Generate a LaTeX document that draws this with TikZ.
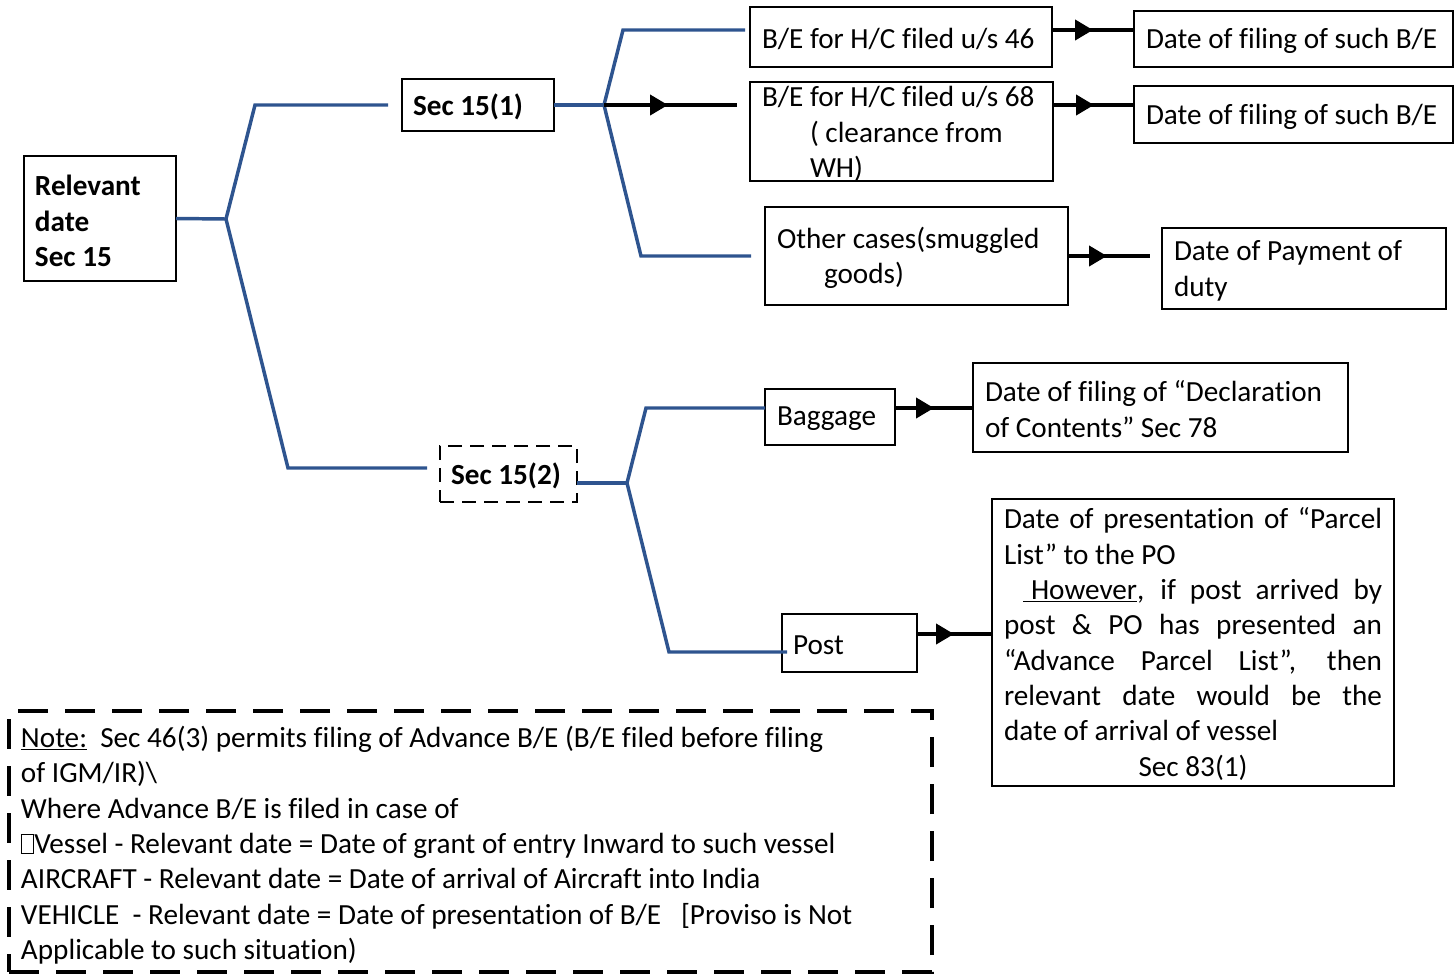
\documentclass[tikz,border=0pt]{standalone}
\usepackage{fontspec}
\setmainfont{Carlito}[Ligatures=CommonOff]
\usetikzlibrary{arrows.meta,decorations.markings}
\newdimen\upx \upx=0.75pt
\definecolor{lineblue}{RGB}{46,84,143}
\hbadness=10000 \hfuzz=8pt
\newcommand\missingglyph{{\fboxsep=0pt\fboxrule=0.6pt\fbox{\rule{0pt}{0.62em}\hspace{0.4em}}}}
\begin{document}
\begin{tikzpicture}[x=0.75pt,y=-0.75pt,
  box/.style={draw=black,line width=1.5pt,inner sep=0pt,outer sep=0pt,anchor=north west},
  dashbox/.style={box,line width=1.9pt,dash pattern=on 10.5pt off 6pt},
  notebox/.style={box,line width=3pt,dash pattern=on 22.5pt off 12.75pt},
  txt/.style={inner sep=0pt,outer sep=0pt,anchor=west,align=left,yshift=-1.5pt,font=\fontsize{21.9}{26.5}\selectfont},
  bold/.style={font=\fontsize{21.9}{26.5}\selectfont\bfseries},
  bl/.style={draw=lineblue,line width=2.6pt},
  ar/.style={draw=black,line width=3pt,postaction={decorate,decoration={markings,mark=at position #1 with {\arrow{Triangle[length=13.5pt,width=15pt]}}}}},
]
\useasboundingbox (0,0) rectangle (1454,975);

% boxes
\node[box,minimum width=152\upx,minimum height=125\upx] (rel) at (24,156) {};
\node[box,minimum width=152\upx,minimum height=52\upx] (s151) at (402,79) {};
\node[dashbox,minimum width=137\upx,minimum height=56\upx] (s152) at (440,446) {};
\node[box,minimum width=302\upx,minimum height=60\upx] (b46) at (750,7) {};
\node[box,minimum width=303\upx,minimum height=99\upx] (b68) at (750,82) {};
\node[box,minimum width=303\upx,minimum height=98\upx] (oth) at (765,207) {};
\node[box,minimum width=319\upx,minimum height=56\upx] (d1) at (1134,11) {};
\node[box,minimum width=319\upx,minimum height=57\upx] (d2) at (1134,86) {};
\node[box,minimum width=284\upx,minimum height=81\upx] (pay) at (1162,228) {};
\node[box,minimum width=130\upx,minimum height=56\upx] (bag) at (765,389) {};
\node[box,minimum width=375\upx,minimum height=89\upx] (decl) at (973,363) {};
\node[box,minimum width=135\upx,minimum height=58\upx] (post) at (782,614) {};
\node[box,minimum width=402\upx,minimum height=287\upx] (pres) at (992,499) {};
\node[notebox,minimum width=923\upx,minimum height=261\upx] (note) at (9,711) {};

% texts
\node[txt,bold] (relt) at (35,219) {Relevant\\date\\Sec 15};
\node[txt,bold,anchor=center] (s151t) at (468,105) {Sec 15(1)};
\node[txt,bold,anchor=center] (s152t) at (506,474) {Sec 15(2)};
\node[txt] (b46t) at (762,37) {B/E for H/C filed u/s 46};
\node[txt] (b68t) at (762,132) {B/E for H/C filed u/s 68\\\hspace*{48\upx}( clearance from\\\hspace*{48\upx}WH)};
\node[txt] (otht) at (777,256) {Other cases(smuggled\\\hspace*{47\upx}goods)};
\node[txt] (d1t) at (1146,39) {Date of filing of such B/E};
\node[txt] (d2t) at (1146,115) {Date of filing of such B/E};
\node[txt] (payt) at (1174,269) {Date of Payment of\\duty};
\node[txt] (bagt) at (777,417) {Baggage};
\node[txt] (declt) at (985,407) {Date of filing of “Declaration\\of Contents” Sec 78};
\node[txt] (postt) at (793,643) {Post};
\node[txt,align=justify,text width=378\upx] (prest) at (1004,642) {\parindent=0pt
Date of presentation of “Parcel\linebreak List” to the PO\par
\hspace*{19\upx}\underline{\hspace{8\upx}However}, if post arrived by\linebreak post \& PO has presented an\linebreak “Advance Parcel List”, then\linebreak relevant date would be the\linebreak date of arrival of vessel\par
\centerline{Sec 83(1)}};
\node[txt] (notet) at (21,843) {\underline{Note:}\ \ Sec 46(3) permits filing of Advance B/E (B/E filed before filing\\
of IGM/IR)\textbackslash\\
Where Advance B/E is filed in case of\\
\missingglyph Vessel - Relevant date = Date of grant of entry Inward to such vessel\\
AIRCRAFT - Relevant date = Date of arrival of Aircraft into India\\
VEHICLE\ \ - Relevant date = Date of presentation of B/E\ \ \ [Proviso is Not\\
Applicable to such situation)};

% blue connectors
\coordinate (j1) at (226,219);
\draw[bl] (rel.east) -- (j1) -- (255,105) -- ([shift={(-14,0)}]s151.west);
\draw[bl] (j1) -- (288,468) -- ([shift={(-13,-6)}]s152.west);
\coordinate (j2) at (604,105);
\draw[bl] (s151.east) -- (j2);
\draw[bl] (j2) -- (623,30) -- ([shift={(-5,-7)}]b46.west);
\draw[bl] (j2) -- (641,256) -- ([shift={(-14,0)}]oth.west);
\coordinate (j3) at (627,483);
\draw[bl] ([shift={(0,9)}]s152.east) -- (j3);
\draw[bl] (j3) -- (646,408) -- ([shift={(0,-9)}]bag.west);
\draw[bl] (j3) -- (669,652) -- ([shift={(5,9)}]post.west);

% black arrows
\draw[ar=48pt] (j2) -- ([shift={(-13,-26.5)}]b68.west);
\draw[ar=30.75pt] ([shift={(0,-7)}]b46.east) -- ([shift={(0,-9)}]d1.west);
\draw[ar=30.75pt] ([shift={(0,-26.5)}]b68.east) -- ([shift={(0,-9.5)}]d2.west);
\draw[ar=29.25pt] (oth.east) -- ([shift={(-12,-12.5)}]pay.west);
\draw[ar=29.25pt] ([shift={(0,-9)}]bag.east) -- ([shift={(0,0.5)}]decl.west);
\draw[ar=27.75pt] ([shift={(0,-9)}]post.east) -- ([shift={(0,-8.5)}]pres.west);
\end{tikzpicture}
\end{document}
